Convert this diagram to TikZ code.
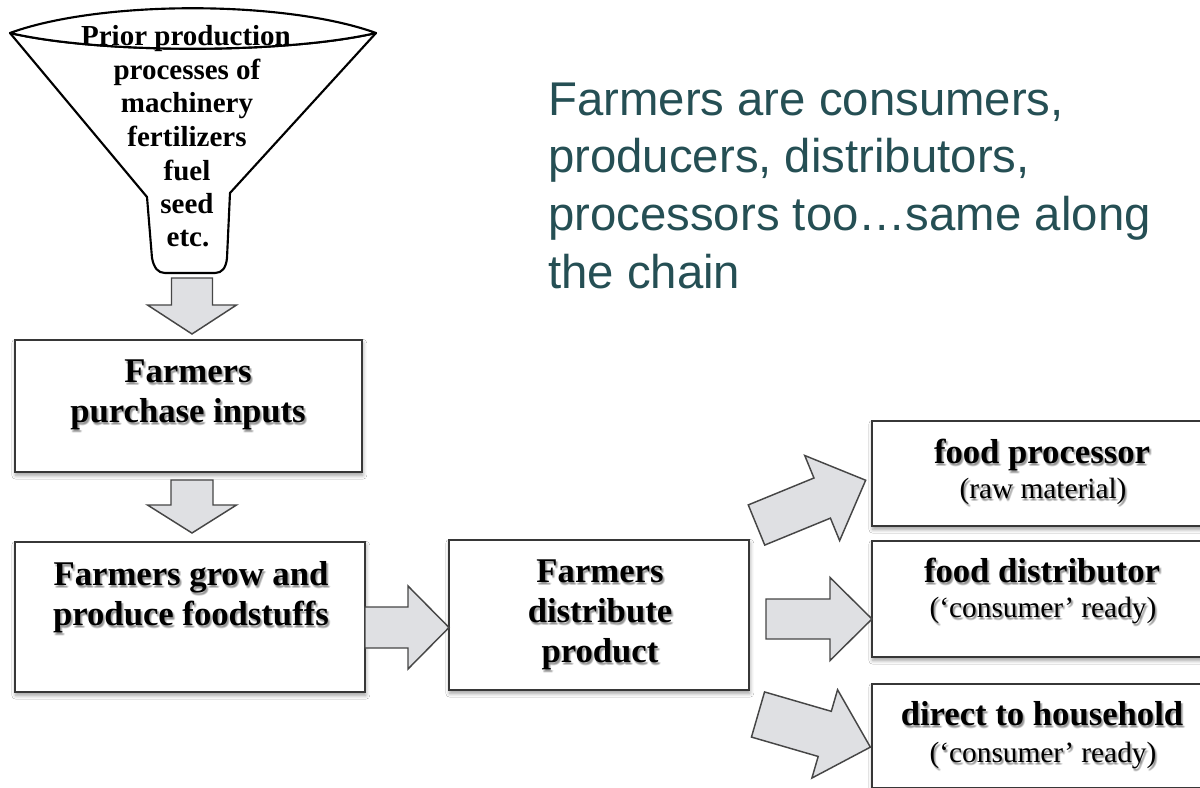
\documentclass[tikz,border=0pt]{standalone}
\usepackage{fontspec}
\setmainfont{Liberation Serif}
\newfontfamily\notefont{Liberation Sans}
\usetikzlibrary{calc,shadows.blur}

\definecolor{notecolor}{RGB}{37,79,84}
\definecolor{arrowfill}{RGB}{223,224,227}
\definecolor{arrowline}{RGB}{70,70,70}
\definecolor{boxline}{RGB}{55,55,55}
\definecolor{shadowgray}{RGB}{80,80,80}

\tikzset{
  stagebox/.style={draw=boxline, line width=1.5pt, fill=white, rectangle, inner sep=0pt,
    blur shadow={shadow xshift=0.6pt, shadow yshift=-2.4pt, shadow blur radius=3pt, shadow opacity=40}},
  flowarrow/.style={draw=arrowline, fill=arrowfill, line width=1.1pt, line join=miter},
  funnelline/.style={draw=black, line width=1.6pt, line join=round, fill=white},
  stagetext/.style={font=\fontsize{26}{31}\selectfont\bfseries, inner sep=0pt},
  subtext/.style={font=\fontsize{22}{26}\selectfont, inner sep=0pt},
  funneltext/.style={font=\fontsize{21.75}{25}\selectfont\bfseries, inner sep=0pt},
  notetext/.style={font=\notefont\fontsize{35.5}{43}\selectfont, text=notecolor, inner sep=0pt, anchor=base west},
}

% text line with a soft grey shadow: name, base point, style, text
\newcommand\shadedline[4]{%
  \foreach \dx/\dy in {1/2, 2/3, 1.5/2.5, 2.5/2, 1/3.2}
    \node[#3, anchor=base, text=shadowgray, opacity=0.16] at ($#2+(\dx,\dy)$) {#4};
  \node[#3, anchor=base] (#1) at #2 {#4};}

% block arrow: tail point, angle, length, shaft half-width, head half-width, head length
\newcommand\blockarrow[6]{%
  \begin{scope}[shift={#1}, rotate=#2]
    \draw[flowarrow] (0,-#4) -- ({#3-#6},-#4) -- ({#3-#6},-#5) -- (#3,0)
      -- ({#3-#6},#5) -- ({#3-#6},#4) -- (0,#4) -- cycle;
  \end{scope}}

\begin{document}
\begin{tikzpicture}[x=0.75pt, y=-0.75pt]
\useasboundingbox (0,0) rectangle (1200,788);
\fill[white] (0,0) rectangle (1200,788);

% ---- funnel of prior production processes
\coordinate (lens-l) at (10,33);
\coordinate (lens-r) at (376,33);
\draw[funnelline] (lens-l) -- (147,197) -- (152,258) .. controls (154,268) and (158,273) .. (165,273)
  -- (215,273) .. controls (222,273) and (226,268) .. (227,258) -- (230,193) -- (lens-r)
  .. controls (285,54) and (100,54) .. (lens-l) -- cycle;
\draw[funnelline] (lens-l) .. controls (100,0) and (285,0) .. (lens-r)
  .. controls (285,54) and (100,54) .. (lens-l) -- cycle;
\node[funneltext, anchor=base] (f1) at (186,46) {Prior production};
\node[funneltext, anchor=base] (f2) at (187,80) {processes of};
\node[funneltext, anchor=base] (f3) at (187,113) {machinery};
\node[funneltext, anchor=base] (f4) at (187,147) {fertilizers};
\node[funneltext, anchor=base] (f5) at (187,181) {fuel};
\node[funneltext, anchor=base] (f6) at (187,214) {seed};
\node[funneltext, anchor=base] (f7) at (188,247) {etc.};

% ---- farm stages
\node[stagebox, minimum width=260.25pt, minimum height=99pt] (purchase) at (188.5,406) {};
\node[stagebox, minimum width=262.5pt, minimum height=112.5pt] (grow) at (190,617) {};
\node[stagebox, minimum width=225pt, minimum height=112.5pt] (distribute) at (599,615) {};

\shadedline{p1}{(188,382)}{stagetext}{Farmers}
\shadedline{p2}{(188,422)}{stagetext}{purchase inputs}
\shadedline{g1}{(191,585)}{stagetext}{Farmers grow and}
\shadedline{g2}{(191,625)}{stagetext}{produce foodstuffs}
\shadedline{d1}{(600,582)}{stagetext}{Farmers}
\shadedline{d2}{(600,622)}{stagetext}{distribute}
\shadedline{d3}{(600,662)}{stagetext}{product}

% ---- outlets
\node[stagebox, minimum width=250.5pt, minimum height=78.75pt] (processor) at (1039,473.5) {};
\node[stagebox, minimum width=250.5pt, minimum height=87pt] (distributor) at (1039,599) {};
\node[stagebox, minimum width=250.5pt, minimum height=78pt] (household) at (1039,736) {};

\shadedline{o1}{(1042,463)}{stagetext}{food processor}
\shadedline{o2}{(1043,498)}{subtext}{(raw material)}
\shadedline{o3}{(1042,582)}{stagetext}{food distributor}
\shadedline{o4}{(1043,617)}{subtext}{(‘consumer’ ready)}
\shadedline{o5}{(1042,725)}{stagetext}{direct to household}
\shadedline{o6}{(1043,762)}{subtext}{(‘consumer’ ready)}

% ---- flow arrows
\coordinate (a1) at (192,278);
\coordinate (a2) at (192,480);
\coordinate (a3) at (365,627.5);
\coordinate (a4) at (766,619);
\coordinate (a5) at (756.5,525);
\coordinate (a6) at (758,714.5);
\blockarrow{(a1)}{-90}{56}{20.5}{44.5}{29}
\blockarrow{(a2)}{-90}{53}{21}{44.5}{28}
\blockarrow{(a3)}{0}{84}{20.5}{41.5}{41}
\blockarrow{(a4)}{0}{106}{20}{41.5}{42}
\blockarrow{(a5)}{22.3}{118}{21.7}{46}{47}
\blockarrow{(a6)}{-16.2}{117}{23.5}{46}{47.5}

% ---- note
\node[notetext] (n1) at (548,116) {Farmers are consumers,};
\node[notetext] (n2) at (548,173) {producers, distributors,};
\node[notetext] (n3) at (548,231) {processors too…same along};
\node[notetext] (n4) at (548,288) {the chain};
\end{tikzpicture}
\end{document}
